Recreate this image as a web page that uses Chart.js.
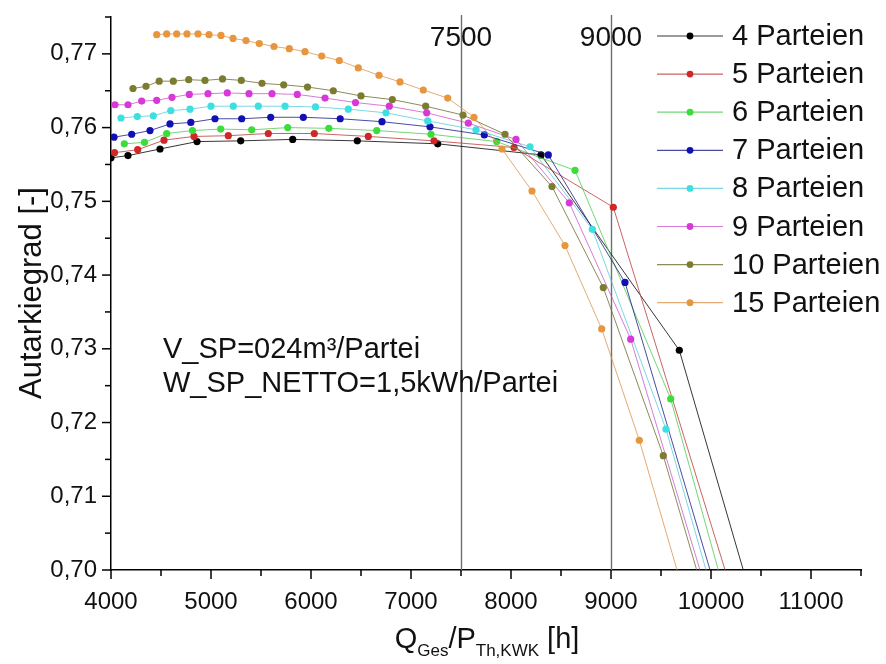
<!DOCTYPE html>
<html>
<head>
<meta charset="utf-8">
<script src="https://cdn.jsdelivr.net/npm/chart.js@4/dist/chart.umd.min.js"></script>
<style>
  html, body { margin: 0; padding: 0; background: #ffffff; }
  canvas { display: block; }
</style>
</head>
<body>
<canvas id="chart" width="886" height="664"></canvas>
<script>
// Autarkiegrad über Q_Ges/P_Th,KWK für verschiedene Parteienzahlen
const seriesNames = ['4 Parteien', '5 Parteien', '6 Parteien', '7 Parteien',
                     '8 Parteien', '9 Parteien', '10 Parteien', '15 Parteien'];

const hours4   = [4000, 4170, 4490, 4860, 5297, 5817, 6463, 7267, 8300, 9683, 11100];
const autarky4 = [0.7559, 0.7562, 0.7571, 0.7581, 0.7582, 0.7584, 0.7582, 0.7578, 0.7563, 0.7298, 0.6638];

const hours5   = [4035, 4267, 4530, 4830, 5173, 5573, 6033, 6573, 7230, 8030, 9023, 10300];
const autarky5 = [0.7566, 0.7570, 0.7583, 0.7588, 0.7589, 0.7592, 0.7592, 0.7588, 0.7582, 0.7573, 0.7492, 0.6930];

const hours6   = [4133, 4335, 4557, 4815, 5097, 5407, 5767, 6178, 6657, 7200, 7857, 8640, 9597, 10500];
const autarky6 = [0.7578, 0.7580, 0.7592, 0.7596, 0.7598, 0.7597, 0.7600, 0.7599, 0.7596, 0.7591, 0.7581, 0.7542, 0.7232, 0.6792];

const hours7   = [4030, 4207, 4390, 4590, 4798, 5040, 5307, 5597, 5923, 6292, 6710, 7190, 7733, 8373, 9140, 10200];
const autarky7 = [0.7587, 0.7591, 0.7596, 0.7605, 0.7607, 0.7612, 0.7612, 0.7614, 0.7614, 0.7612, 0.7608, 0.7601, 0.7590, 0.7563, 0.7390, 0.6904];

const hours8   = [4100, 4263, 4423, 4598, 4790, 5000, 5223, 5473, 5740, 6045, 6373, 6750, 7167, 7650, 8190, 8813, 9550, 10300];
const autarky8 = [0.7613, 0.7615, 0.7616, 0.7623, 0.7625, 0.7629, 0.7629, 0.7629, 0.7629, 0.7628, 0.7625, 0.7620, 0.7609, 0.7597, 0.7574, 0.7462, 0.7191, 0.6833];

const hours9   = [4040, 4170, 4307, 4457, 4610, 4783, 4970, 5163, 5380, 5610, 5863, 6140, 6445, 6783, 7157, 7573, 8050, 8583, 9197, 10000];
const autarky9 = [0.7631, 0.7631, 0.7636, 0.7637, 0.7641, 0.7645, 0.7646, 0.7647, 0.7646, 0.7646, 0.7645, 0.7640, 0.7634, 0.7629, 0.7620, 0.7606, 0.7584, 0.7498, 0.7313, 0.6950];

const hours10   = [4220, 4350, 4482, 4623, 4777, 4940, 5115, 5303, 5510, 5727, 5965, 6223, 6500, 6813, 7147, 7520, 7940, 8410, 8923, 9523, 10100];
const autarky10 = [0.7653, 0.7656, 0.7663, 0.7663, 0.7665, 0.7664, 0.7666, 0.7664, 0.7660, 0.7658, 0.7655, 0.7650, 0.7643, 0.7638, 0.7629, 0.7617, 0.7591, 0.7520, 0.7383, 0.7155, 0.6887];

const hours15   = [4457, 4557, 4657, 4760, 4870, 4980, 5100, 5220, 5350, 5483, 5630, 5783, 5940, 6107, 6283, 6473, 6680, 6890, 7123, 7367, 7630, 7910, 8210, 8540, 8907, 9283, 9800];
const autarky15 = [0.7726, 0.7727, 0.7727, 0.7727, 0.7727, 0.7726, 0.7725, 0.7721, 0.7718, 0.7714, 0.7710, 0.7707, 0.7703, 0.7697, 0.7691, 0.7681, 0.7671, 0.7662, 0.7651, 0.7640, 0.7614, 0.7571, 0.7514, 0.7440, 0.7327, 0.7176, 0.6935];

const xTicks = [4000, 5000, 6000, 7000, 8000, 9000, 10000, 11000];
const yTicks = [0.70, 0.71, 0.72, 0.73, 0.74, 0.75, 0.76, 0.77];
const markerLines = [7500, 9000];
const noteLines = ['V_SP=024m\u00B3/Partei', 'W_SP_NETTO=1,5kWh/Partei'];

// styling
const pointColors = ['#000000', '#d02828', '#3cdc3c', '#1010b4', '#3ce0e0', '#d838d8', '#7c7c30', '#e8963e'];
const lineColors  = ['rgba(20,20,20,0.85)', 'rgba(190,60,60,0.8)', 'rgba(70,200,70,0.75)', 'rgba(30,30,140,0.8)',
                     'rgba(80,200,220,0.75)', 'rgba(200,80,200,0.75)', 'rgba(110,110,50,0.8)', 'rgba(220,150,80,0.8)'];
const FONT = "'Liberation Sans', Arial, Helvetica, sans-serif";

const allHours = [hours4, hours5, hours6, hours7, hours8, hours9, hours10, hours15];
const allAutarky = [autarky4, autarky5, autarky6, autarky7, autarky8, autarky9, autarky10, autarky15];

const datasets = seriesNames.map((name, i) => ({
  label: name,
  data: allHours[i].map((h, k) => ({ x: h, y: allAutarky[i][k] })),
  borderColor: lineColors[i],
  backgroundColor: pointColors[i],
  pointBackgroundColor: pointColors[i],
  pointBorderWidth: 0,
  pointRadius: 3.6,
  borderWidth: 1,
  tension: 0,
  order: 8 - i
}));

const decorations = {
  id: 'decorations',
  beforeDatasetsDraw(chart) {
    const { ctx, chartArea, scales } = chart;
    ctx.save();
    ctx.strokeStyle = '#707070';
    ctx.lineWidth = 1.4;
    markerLines.forEach(v => {
      const px = Math.round(scales.x.getPixelForValue(v)) + 0.5;
      ctx.beginPath();
      ctx.moveTo(px, chartArea.top - 2);
      ctx.lineTo(px, chartArea.bottom);
      ctx.stroke();
    });
    ctx.restore();
  },
  afterDraw(chart) {
    const { ctx, chartArea, scales } = chart;
    const xs = scales.x, ys = scales.y;
    ctx.save();
    ctx.strokeStyle = '#000';
    ctx.lineWidth = 1.5;
    // x ticks (major + minor)
    for (let v = 4000; v <= 11500; v += 500) {
      const px = xs.getPixelForValue(v);
      const major = v % 1000 === 0;
      ctx.beginPath();
      ctx.moveTo(px, chartArea.bottom);
      ctx.lineTo(px, chartArea.bottom + (major ? 9 : 6));
      ctx.stroke();
    }
    // y ticks (major + minor)
    for (let k = 0; k <= 15; k++) {
      const v = 0.70 + k * 0.005;
      const py = ys.getPixelForValue(v);
      const major = k % 2 === 0;
      ctx.beginPath();
      ctx.moveTo(chartArea.left, py);
      ctx.lineTo(chartArea.left - (major ? 9 : 6), py);
      ctx.stroke();
    }
    // labels of the marker lines
    ctx.fillStyle = '#111';
    ctx.font = '28px ' + FONT;
    ctx.textAlign = 'center';
    ctx.textBaseline = 'middle';
    markerLines.forEach(v => {
      ctx.fillText(String(v), xs.getPixelForValue(v), 38);
    });
    // storage notes
    ctx.textAlign = 'left';
    ctx.font = '29px ' + FONT;
    ctx.fillText(noteLines[0], 163, 350);
    ctx.fillText(noteLines[1], 163, 384);
    // legend
    const legX = 657, legLen = 66, textX = 732;
    seriesNames.forEach((name, i) => {
      const cy = 36 + i * 38.1;
      ctx.strokeStyle = lineColors[i];
      ctx.lineWidth = 1.2;
      ctx.beginPath();
      ctx.moveTo(legX, cy);
      ctx.lineTo(legX + legLen, cy);
      ctx.stroke();
      ctx.fillStyle = pointColors[i];
      ctx.beginPath();
      ctx.arc(legX + legLen / 2, cy, 3.4, 0, Math.PI * 2);
      ctx.fill();
      ctx.fillStyle = '#111';
      ctx.font = '29px ' + FONT;
      ctx.fillText(name, textX, cy + 1);
    });
    // y axis title
    ctx.save();
    ctx.translate(32, 293);
    ctx.rotate(-Math.PI / 2);
    ctx.textAlign = 'center';
    ctx.font = '31px ' + FONT;
    ctx.fillText('Autarkiegrad [-]', 0, 0);
    ctx.restore();
    // x axis title with subscripts
    const parts = [
      { t: 'Q', size: 29, dy: 0 },
      { t: 'Ges', size: 17, dy: 8 },
      { t: '/P', size: 29, dy: 0 },
      { t: 'Th,KWK', size: 17, dy: 8 },
      { t: ' [h]', size: 29, dy: 0 }
    ];
    let total = 0;
    parts.forEach(p => { ctx.font = p.size + 'px ' + FONT; p.w = ctx.measureText(p.t).width; total += p.w; });
    let x0 = 487 - total / 2;
    ctx.textBaseline = 'alphabetic';
    parts.forEach(p => {
      ctx.font = p.size + 'px ' + FONT;
      ctx.fillText(p.t, x0, 648 + p.dy);
      x0 += p.w;
    });
    ctx.restore();
  }
};

new Chart(document.getElementById('chart'), {
  type: 'line',
  data: { datasets },
  options: {
    responsive: false,
    animation: false,
    events: [],
    layout: { padding: { left: 0, right: 25, top: 17, bottom: 0 } },
    scales: {
      x: {
        type: 'linear',
        min: 4000,
        max: 11500,
        afterBuildTicks: s => { s.ticks = xTicks.map(v => ({ value: v })); },
        afterFit: s => { s.height = 94; },
        grid: { display: false, drawTicks: false },
        border: { display: true, color: '#000', width: 1.5 },
        ticks: {
          color: '#111',
          padding: 18,
          maxRotation: 0,
          font: { family: FONT, size: 24 },
          callback: v => String(v)
        }
      },
      y: {
        type: 'linear',
        min: 0.70,
        max: 0.775,
        afterBuildTicks: s => { s.ticks = yTicks.map(v => ({ value: v })); },
        afterFit: s => { s.width = 111; },
        grid: { display: false, drawTicks: false },
        border: { display: true, color: '#000', width: 1.5 },
        ticks: {
          color: '#111',
          padding: 14,
          font: { family: FONT, size: 24, lineHeight: 0.2 },
          callback: v => Number(v).toFixed(2).replace('.', ',')
        }
      }
    },
    plugins: {
      legend: { display: false },
      tooltip: { enabled: false }
    }
  },
  plugins: [decorations]
});
</script>
</body>
</html>
